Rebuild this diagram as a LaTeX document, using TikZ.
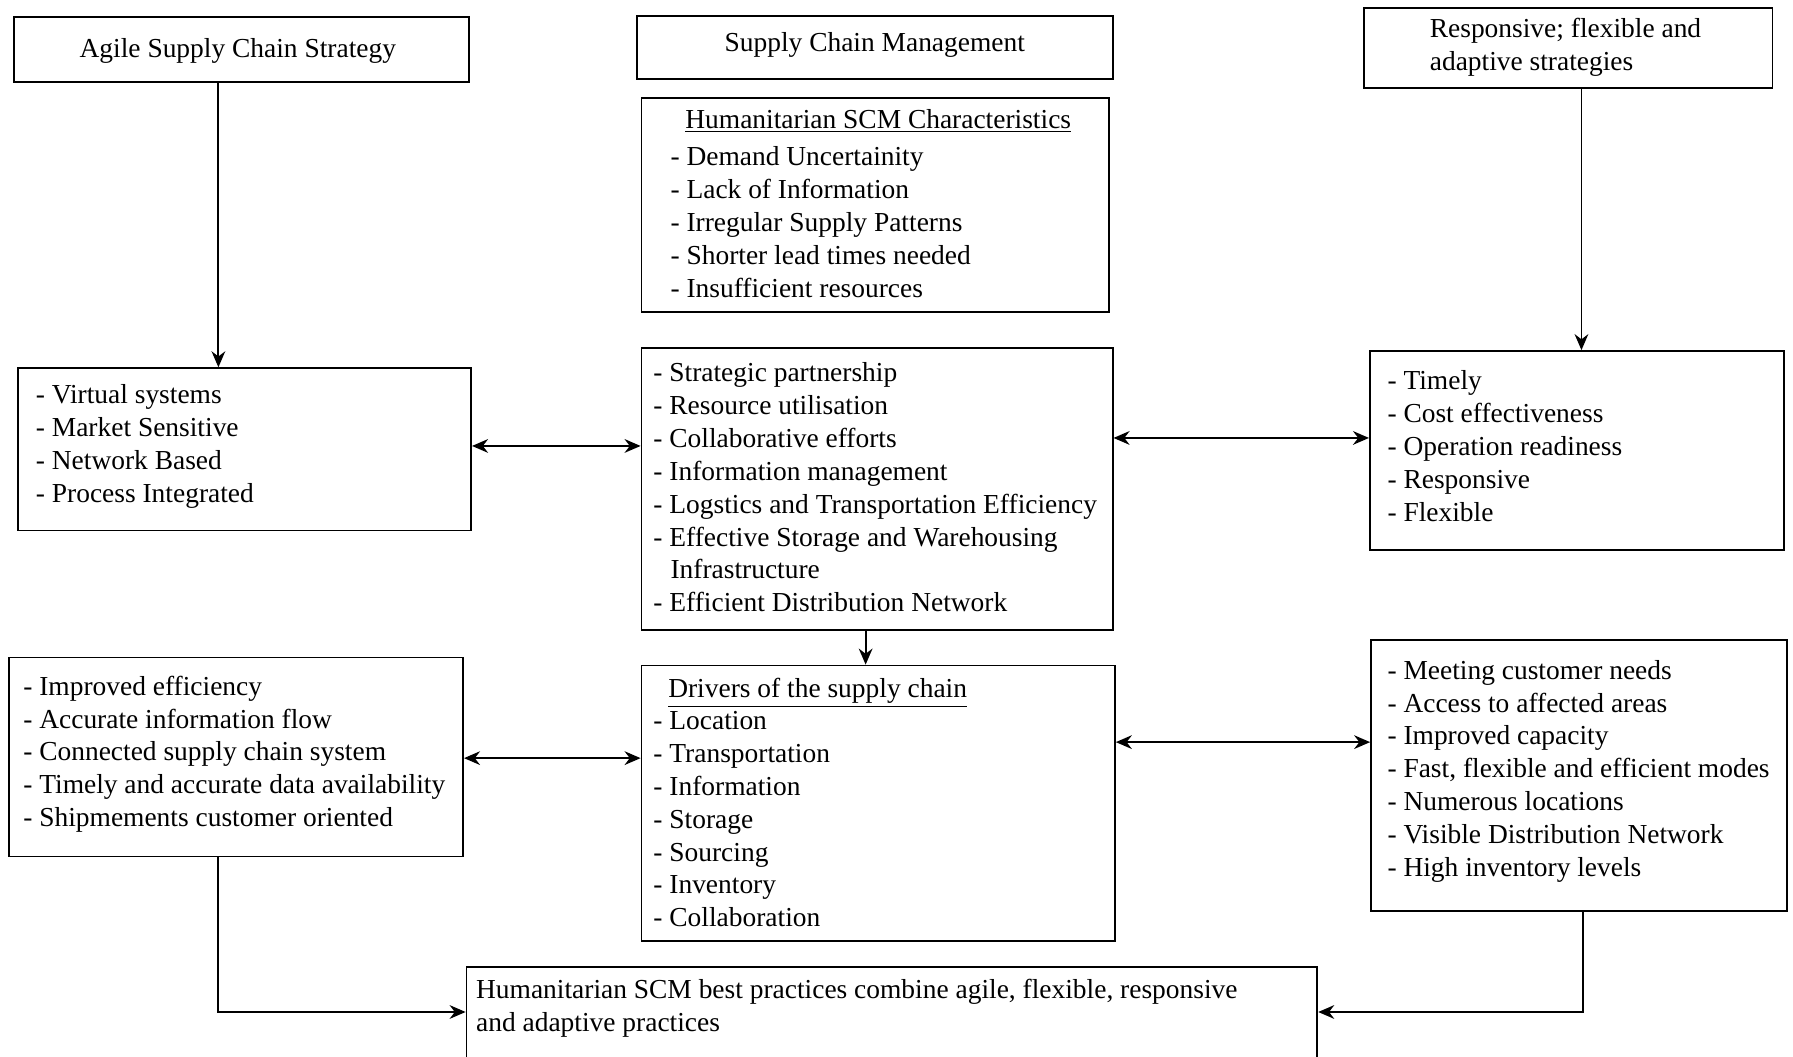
\documentclass[tikz,border=0pt]{standalone}
\usepackage{fontspec}
\setmainfont{Liberation Serif}
\usetikzlibrary{arrows.meta,fit}
\begin{document}
\begin{tikzpicture}[x=0.5pt,y=-0.5pt,
  box/.style={draw, line width=0.8pt, inner sep=0pt},
  txt/.style={anchor=base west, inner sep=0pt, font=\fontsize{12}{14.4}\selectfont},
  ctr/.style={anchor=base, inner sep=0pt, font=\fontsize{12}{14.4}\selectfont},
  tip/.style={Stealth[length=7pt,width=6pt]},
  arr/.style={line width=0.8pt, -{Stealth[length=7pt,width=6pt]}},
  darr/.style={line width=0.8pt, {Stealth[length=7pt,width=6pt]}-{Stealth[length=7pt,width=6pt]}}]
\useasboundingbox (0,0) rectangle (1568,924);

% ---- boxes ----
\node[box, fit={(12,15) (410,72)}] (A) {};
\node[box, fit={(557,14) (973,69)}] (S) {};
\node[box, fit={(1193,7) (1550,77)}] (R) {};
\node[box, fit={(561,86) (970,273)}] (C) {};
\node[box, fit={(16,322) (412,464)}] (L1) {};
\node[box, fit={(561,304) (973,551)}] (M) {};
\node[box, fit={(1198,307) (1560,481)}] (R1) {};
\node[box, fit={(8,575) (405,749)}] (L2) {};
\node[box, fit={(561,582) (975,823)}] (D) {};
\node[box, fit={(1199,560) (1563,797)}] (R2) {};
\node[box, fit={(408,846) (1152,935)}] (B) {};

% ---- texts ----
\node[ctr] (At) at (208,50) {Agile Supply Chain Strategy};
\node[ctr] (St) at (765,45) {Supply Chain Management};
\node[txt] (Rt1) at (1250,33) {Responsive; flexible and};
\node[txt] (Rt2) at (1250,62) {adaptive strategies};

\node[txt] (Ct) at (599,112) {\underline{Humanitarian SCM Characteristics}};
\foreach \t [count=\i from 0] in {{- Demand Uncertainity},{- Lack of Information},{- Irregular Supply Patterns},{- Shorter lead times needed},{- Insufficient resources}}
  \node[txt] (Ci\i) at (586,{145+28.75*\i}) {\t};

\foreach \t [count=\i from 0] in {{- Virtual systems},{- Market Sensitive},{- Network Based},{- Process Integrated}}
  \node[txt] (L1i\i) at (31,{353+28.75*\i}) {\t};

\foreach \t [count=\i from 0] in {{- Strategic partnership},{- Resource utilisation},{- Collaborative efforts},{- Information management},{- Logstics and Transportation Efficiency},{- Effective Storage and Warehousing}}
  \node[txt] (Mi\i) at (571,{334+28.75*\i}) {\t};
\node[txt] (Mi6) at (586,506) {Infrastructure};
\node[txt] (Mi7) at (571,535) {- Efficient Distribution Network};

\foreach \t [count=\i from 0] in {{- Timely},{- Cost effectiveness},{- Operation readiness},{- Responsive},{- Flexible}}
  \node[txt] (R1i\i) at (1213,{341+28.75*\i}) {\t};

\foreach \t [count=\i from 0] in {{- Improved efficiency},{- Accurate information flow},{- Connected supply chain system},{- Timely and accurate data availability},{- Shipmements customer oriented}}
  \node[txt] (L2i\i) at (20,{608+28.75*\i}) {\t};

\node[txt] (Dt) at (584,610) {\underline{Drivers of the supply chain}};
\foreach \t [count=\i from 0] in {{- Location},{- Transportation},{- Information},{- Storage},{- Sourcing},{- Inventory},{- Collaboration}}
  \node[txt] (Di\i) at (571,{638+28.75*\i}) {\t};

\foreach \t [count=\i from 0] in {{- Meeting customer needs},{- Access to affected areas},{- Improved capacity},{- Fast, flexible and efficient modes},{- Numerous locations},{- Visible Distribution Network},{- High inventory levels}}
  \node[txt] (R2i\i) at (1213,{594+28.75*\i}) {\t};

\node[txt] (Bt1) at (416,873) {Humanitarian SCM best practices combine agile, flexible, responsive};
\node[txt] (Bt2) at (416,902) {and adaptive practices};

% ---- connector guides ----
\coordinate (xa) at (191,0);
\coordinate (xr) at (1383,0);
\coordinate (xm) at (757,0);
\coordinate (xb) at (1384,0);
\coordinate (y1) at (0,390);
\coordinate (y2) at (0,383);
\coordinate (y3) at (0,663);
\coordinate (y4) at (0,649);
\coordinate (y5) at (0,885);

% ---- connectors ----
\draw[arr] (A.south -| xa) -- (L1.north -| xa);
\draw[arr] (R.south -| xr) -- (R1.north -| xr);
\draw[darr] (L1.east |- y1) -- (M.west |- y1);
\draw[darr] (M.east |- y2) -- (R1.west |- y2);
\draw[arr] (M.south -| xm) -- (D.north -| xm);
\draw[darr] (L2.east |- y3) -- (D.west |- y3);
\draw[darr] (D.east |- y4) -- (R2.west |- y4);
\draw[arr] (L2.south -| xa) -- (xa |- y5) -- (B.west |- y5);
\draw[arr] (R2.south -| xb) -- (xb |- y5) -- (B.east |- y5);
\end{tikzpicture}
\end{document}
